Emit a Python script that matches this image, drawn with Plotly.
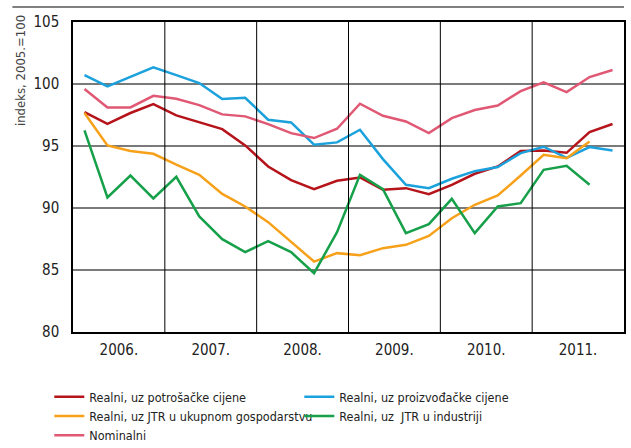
import plotly.graph_objects as go

years = ["2006.", "2007.", "2008.", "2009.", "2010.", "2011."]
# quarterly positions: Q1 2006 .. Q4 2011 (year index + quarter centre)
quarters = [y + (q + 0.5) / 4 for y in range(6) for q in range(4)]

realni_potrosacke = [97.74, 96.79, 97.66, 98.38, 97.47, 96.90, 96.36, 95.05,
                     93.35, 92.25, 91.52, 92.20, 92.46, 91.47, 91.60, 91.12,
                     91.87, 92.76, 93.35, 94.59, 94.64, 94.45, 96.12, 96.77]
realni_proizvodacke = [100.72, 99.81, 100.58, 101.34, 100.72, 100.08, 98.79, 98.89,
                       97.12, 96.90, 95.10, 95.29, 96.31, 93.94, 91.87, 91.60,
                       92.36, 92.97, 93.30, 94.43, 94.94, 94.05, 94.91, 94.64]
realni_jtr_ukupno = [97.66, 95.05, 94.59, 94.37, 93.49, 92.68, 91.14, 90.12,
                     88.86, 87.30, 85.68, 86.36, 86.19, 86.76, 87.03, 87.75,
                     89.18, 90.26, 91.01, 92.62, 94.29, 94.02, 95.37]
realni_jtr_industrija = [96.26, 90.85, 92.62, 90.77, 92.52, 89.32, 87.49, 86.44,
                         87.32, 86.44, 84.74, 88.05, 92.68, 91.52, 87.97, 88.70,
                         90.74, 87.97, 90.12, 90.39, 93.08, 93.40, 91.87]
nominalni = [99.59, 98.11, 98.11, 99.05, 98.81, 98.30, 97.55, 97.39,
             96.77, 96.04, 95.64, 96.39, 98.41, 97.44, 96.98, 96.04,
             97.25, 97.90, 98.27, 99.43, 100.13, 99.35, 100.56, 101.13]

series = [
    ("Realni, uz potrošačke cijene", realni_potrosacke, "#b5141b"),
    ("Realni, uz proizvođačke cijene", realni_proizvodacke, "#1ba1dc"),
    ("Realni, uz JTR u ukupnom gospodarstvu", realni_jtr_ukupno, "#f7a11a"),
    ("Realni, uz  JTR u industriji", realni_jtr_industrija, "#17a04a"),
    ("Nominalni", nominalni, "#e05874"),
]

FONT = "DejaVu Sans Condensed, Liberation Sans Narrow, sans-serif"

fig = go.Figure()
for name, vals, col in series:
    fig.add_trace(go.Scatter(
        x=quarters[:len(vals)], y=vals, mode="lines", name=name,
        line=dict(color=col, width=2.5)))

fig.update_layout(
    width=631, height=448,
    margin=dict(l=73, r=7, t=22, b=116, autoexpand=False),
    paper_bgcolor="white", plot_bgcolor="white",
    font=dict(family=FONT, size=14, color="#222"),
    showlegend=True,
    legend=dict(orientation="h", x=-0.043, xanchor="left", y=-0.1615, yanchor="top",
                entrywidth=205, entrywidthmode="pixels", itemwidth=30,
                font=dict(family=FONT, size=12.5, color="#222"),
                traceorder="normal", tracegroupgap=0),
    xaxis=dict(range=[0, 6], tickmode="array",
               tickvals=[y + 0.5 for y in range(6)], ticktext=years,
               showgrid=False, zeroline=False,
               showline=True, linecolor="black", linewidth=1.5, mirror=True,
               ticks="", ticklabelstandoff=3, tickfont=dict(size=15, color="#222")),
    yaxis=dict(range=[80, 105], tickmode="array",
               tickvals=[80, 85, 90, 95, 100, 105],
               ticktext=["80", "85", "90", "95", "100", "105"],
               showgrid=True, gridcolor="#7a7a7a", gridwidth=1.5,
               zeroline=False, showline=True, linecolor="black", linewidth=1.5,
               mirror=True, ticks="", ticklabelstandoff=9,
               tickfont=dict(size=15, color="#222")),
)

# vertical year separators
for y in range(1, 6):
    fig.add_shape(type="line", xref="x", yref="paper", x0=y, x1=y, y0=0, y1=1,
                  line=dict(color="black", width=1))

# top rule
fig.add_shape(type="line", xref="paper", yref="paper", x0=-0.11, x1=1.0,
              y0=1.048, y1=1.048, line=dict(color="#808080", width=2),
              layer="above")

fig.add_annotation(text="indeks, 2005.=100", xref="paper", yref="paper",
                   x=-0.0955, y=0.843, xanchor="center", yanchor="middle",
                   textangle=-90, showarrow=False,
                   font=dict(family=FONT, size=13, color="#444"))

fig.write_html("out.html",
               config={"displayModeBar": False},
               post_script="document.body.style.margin='0';"
                           "document.body.style.overflow='hidden';")
